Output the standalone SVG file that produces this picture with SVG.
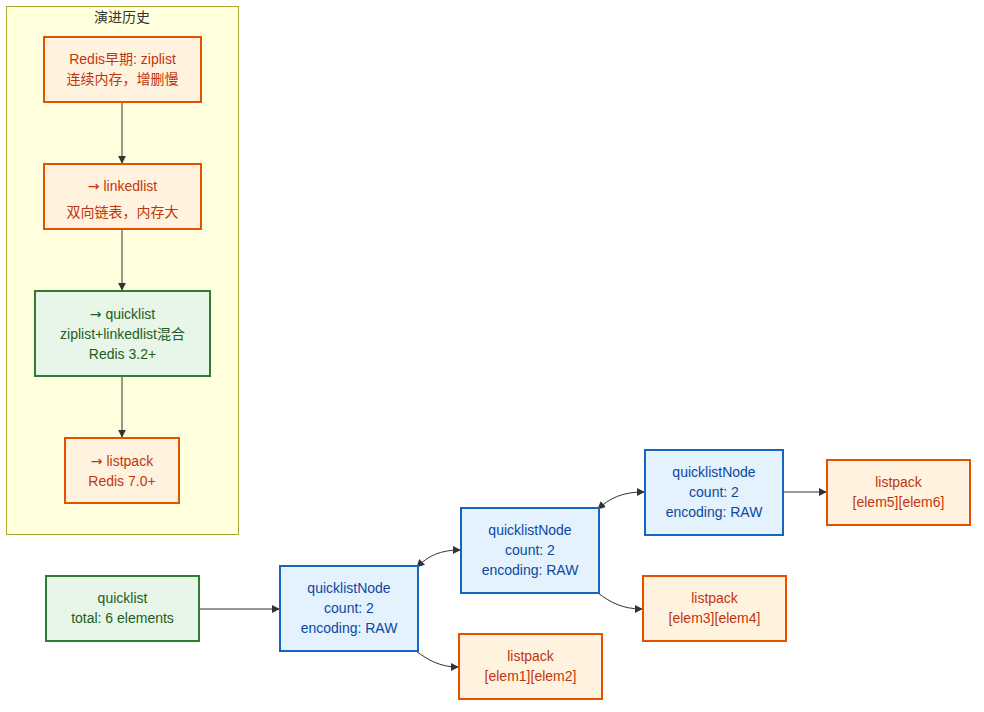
<svg xmlns="http://www.w3.org/2000/svg" width="984" height="712" viewBox="0 0 984 712">
<style>
text{font-family:"Liberation Sans","Noto Sans CJK SC",sans-serif;font-size:14px;text-anchor:middle;dominant-baseline:central}
.ar{font-family:"DejaVu Sans",sans-serif}
.o rect{fill:#fff3e0;stroke:#e65100;stroke-width:2}
.o text{fill:#bf360c}
.g rect{fill:#e8f5e9;stroke:#2e7d32;stroke-width:2}
.g text{fill:#1b5e20}
.b rect{fill:#e3f2fd;stroke:#1565c0;stroke-width:2}
.b text{fill:#0d47a1}
.e{fill:none;stroke:#333;stroke-width:1}
</style>
<defs>
<marker id="ah" viewBox="0 0 10 10" refX="9" refY="5" markerWidth="8" markerHeight="8" orient="auto-start-reverse" markerUnits="userSpaceOnUse"><path d="M0,0L10,5L0,10z" fill="#333"/></marker>
</defs>
<rect width="984" height="712" fill="#fff"/>
<g id="cluster">
<rect x="6.5" y="6.5" width="232" height="528" fill="#ffffde" stroke="#aaaa33" stroke-width="1"/>
<text x="122" y="17" fill="#333">演进历史</text>
</g>
<g id="edges">
<path class="e" d="M122,102V163" marker-end="url(#ah)"/>
<path class="e" d="M122,229V290" marker-end="url(#ah)"/>
<path class="e" d="M122,376V437" marker-end="url(#ah)"/>
<path class="e" d="M199,609H279" marker-end="url(#ah)"/>
<path class="e" d="M417,567C428,556 440,550 460,550" marker-start="url(#ah)" marker-end="url(#ah)"/>
<path class="e" d="M416,651C428,660 440,667 458,667" marker-end="url(#ah)"/>
<path class="e" d="M598,509C610,498 622,492 644,492" marker-start="url(#ah)" marker-end="url(#ah)"/>
<path class="e" d="M598,593C610,602 622,609 642,609" marker-end="url(#ah)"/>
<path class="e" d="M783,492H826" marker-end="url(#ah)"/>
</g>
<g id="early" class="o"><rect x="44" y="37" width="157" height="65"/><text x="122.5" y="59">Redis早期: ziplist</text><text x="122.5" y="79">连续内存，增删慢</text></g>
<g id="linked" class="o"><rect x="44" y="164" width="157" height="65"/><text x="122.5" y="186"><tspan class="ar">→</tspan> linkedlist</text><text x="122.5" y="212">双向链表，内存大</text></g>
<g id="quick" class="g"><rect x="35" y="291" width="175" height="85"/><text x="122.5" y="314"><tspan class="ar">→</tspan> quicklist</text><text x="122.5" y="334">ziplist+linkedlist混合</text><text x="122.5" y="354">Redis 3.2+</text></g>
<g id="lpack" class="o"><rect x="65" y="438" width="114" height="65"/><text x="122" y="461"><tspan class="ar">→</tspan> listpack</text><text x="122" y="481">Redis 7.0+</text></g>
<g id="ql" class="g"><rect x="46" y="576" width="153" height="65"/><text x="122.5" y="598">quicklist</text><text x="122.5" y="618">total: 6 elements</text></g>
<g id="qn1" class="b"><rect x="280" y="566" width="138" height="85"/><text x="349" y="588">quicklistNode</text><text x="349" y="608">count: 2</text><text x="349" y="628">encoding: RAW</text></g>
<g id="qn2" class="b"><rect x="461" y="508" width="138" height="85"/><text x="530" y="530">quicklistNode</text><text x="530" y="550">count: 2</text><text x="530" y="570">encoding: RAW</text></g>
<g id="qn3" class="b"><rect x="645" y="450" width="138" height="85"/><text x="714" y="472">quicklistNode</text><text x="714" y="492">count: 2</text><text x="714" y="512">encoding: RAW</text></g>
<g id="lp1" class="o"><rect x="459" y="634" width="143" height="65"/><text x="530.5" y="656">listpack</text><text x="530.5" y="676">[elem1][elem2]</text></g>
<g id="lp2" class="o"><rect x="643" y="576" width="143" height="65"/><text x="714.5" y="598">listpack</text><text x="714.5" y="618">[elem3][elem4]</text></g>
<g id="lp3" class="o"><rect x="827" y="460" width="143" height="65"/><text x="898.5" y="482">listpack</text><text x="898.5" y="502">[elem5][elem6]</text></g>
</svg>
